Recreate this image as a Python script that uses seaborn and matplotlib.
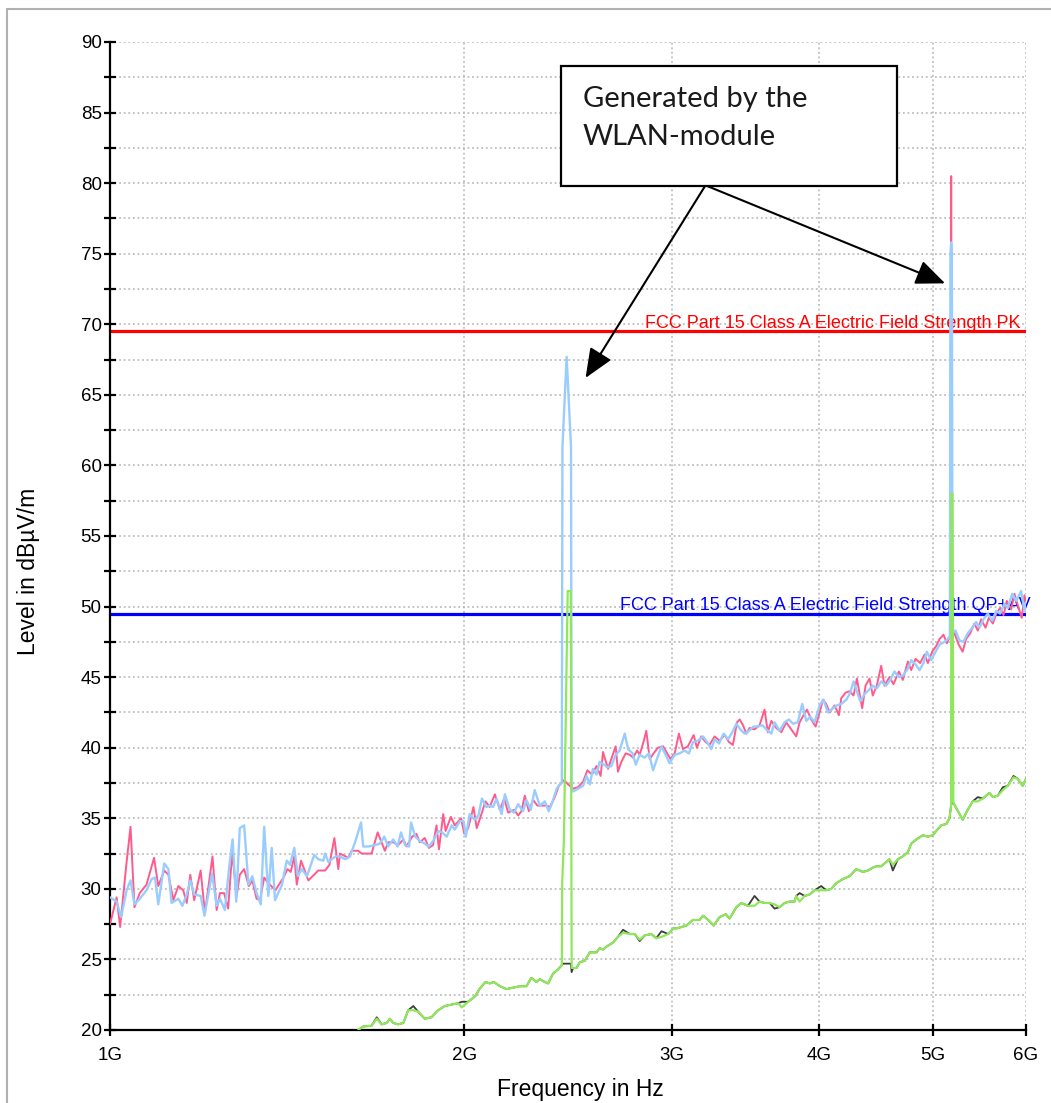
import matplotlib
matplotlib.use("Agg")
import matplotlib.pyplot as plt
import seaborn as sns
from matplotlib.ticker import MultipleLocator, NullLocator, FixedLocator
from matplotlib.patches import Rectangle
from matplotlib.lines import Line2D

# ---------------- data (frequency in GHz, level in dBuV/m) ----------------
pk1_freq = [
    1.000, 1.013, 1.020, 1.033, 1.041, 1.049, 1.060, 1.074, 1.090, 1.099,
    1.112, 1.121, 1.132, 1.143, 1.154, 1.162, 1.170, 1.179, 1.194, 1.204,
    1.222, 1.232, 1.240, 1.250, 1.260, 1.270, 1.281, 1.289, 1.300, 1.312,
    1.321, 1.332, 1.341, 1.352, 1.363, 1.382, 1.404, 1.415, 1.424, 1.434,
    1.441, 1.453, 1.474, 1.503, 1.523, 1.536, 1.551, 1.563, 1.568, 1.594,
    1.604, 1.625,
    1.636, 1.652, 1.668, 1.688, 1.701, 1.712, 1.723, 1.740, 1.757, 1.775,
    1.786, 1.806, 1.821, 1.833, 1.851, 1.866, 1.881, 1.894, 1.903, 1.919,
    1.928, 1.948, 1.963, 1.987, 2.000, 2.015, 2.036, 2.049, 2.070, 2.084,
    2.102, 2.123, 2.144, 2.162, 2.179, 2.204, 2.222, 2.236, 2.251, 2.269,
    2.288, 2.307, 2.326, 2.348, 2.364, 2.387, 2.406, 2.431, 2.450, 2.474,
    2.498, 2.523, 2.544, 2.567, 2.590, 2.611, 2.623, 2.649, 2.666,
    2.689, 2.701, 2.719, 2.742, 2.764, 2.782, 2.804, 2.818, 2.837, 2.855,
    2.874, 2.896, 2.921, 2.950, 2.969, 2.993, 3.018, 3.043, 3.067, 3.097,
    3.132, 3.152, 3.179, 3.206, 3.231, 3.263, 3.295, 3.328, 3.356, 3.382,
    3.409, 3.427, 3.449, 3.472, 3.494, 3.528, 3.563, 3.598, 3.621, 3.646,
    3.681, 3.718, 3.754, 3.791, 3.828, 3.853, 3.883, 3.909, 3.942, 3.976,
    4.007, 4.033, 4.059, 4.086, 4.126, 4.161, 4.180, 4.216, 4.249, 4.282,
    4.310,
    4.355, 4.384, 4.418, 4.446, 4.481, 4.520, 4.549, 4.594, 4.630, 4.679,
    4.715, 4.762, 4.793, 4.834, 4.878, 4.920, 4.952, 4.994, 5.033, 5.066,
    5.106, 5.140, 5.166, 5.178, 5.183, 5.188, 5.217, 5.260, 5.301, 5.336,
    5.379, 5.424, 5.460, 5.496, 5.543, 5.579, 5.624, 5.661, 5.704, 5.742,
    5.779, 5.828, 5.866, 5.904, 5.950, 5.982, 6.000,
]
pk1_level = [
    27.5, 29.4, 27.3, 31.9, 34.4, 28.7, 29.7, 30.3, 32.2, 30.2,
    31.3, 31.0, 29.2, 30.2, 29.9, 29.0, 31.0, 29.2, 31.3, 28.3,
    32.3, 28.5, 29.7, 29.7, 28.6, 32.6, 29.5, 31.0, 31.4, 30.2,
    30.6, 29.3, 29.2, 30.8, 30.4, 29.9, 30.8, 31.4, 31.2, 32.3,
    30.3, 32.0, 30.6, 31.3, 31.3, 31.7, 33.6, 31.4, 32.5, 32.2,
    32.7, 32.7,
    32.5, 32.5, 32.5, 34.0, 33.3, 32.7, 33.3, 33.3, 33.1, 33.5,
    33.0, 33.7, 33.9, 33.3, 33.6, 32.9, 33.1, 34.5, 32.8, 35.3,
    34.1, 35.1, 34.5, 35.0, 33.9, 34.3, 35.8, 34.3, 35.4, 36.2,
    35.8, 36.7, 35.6, 36.4, 35.4, 35.6, 35.2, 35.5, 36.6, 35.5,
    36.3, 35.9, 35.9, 35.9, 35.8, 36.5, 37.3, 37.7, 37.4, 37.1,
    37.2, 37.6, 38.4, 38.1, 38.7, 38.0, 39.7, 38.5, 39.2,
    40.1, 38.3, 39.0, 39.6, 39.5, 39.3, 39.8, 39.5, 40.3, 41.2,
    39.2, 39.6, 40.0, 40.1, 39.7, 39.2, 39.6, 41.0, 39.9, 40.1,
    40.9, 40.0, 40.8, 40.4, 40.2, 40.8, 40.5, 40.9, 40.4, 40.2,
    41.8, 42.0, 41.6, 41.0, 41.4, 41.3, 41.6, 42.7, 41.1, 41.9,
    41.4, 41.1, 41.8, 41.3, 40.8, 41.8, 42.3, 42.7, 42.0, 41.5,
    42.5, 43.4, 43.1, 42.5, 43.0, 42.3, 43.5, 43.9, 44.0, 43.7,
    44.9,
    42.8, 44.4, 44.9, 43.7, 44.4, 45.8, 44.4, 45.0, 44.5, 45.4,
    44.8, 46.1, 45.5, 46.3, 46.0, 46.6, 46.0, 46.8, 47.2, 47.7,
    48.0, 47.4, 47.8, 48.0, 80.5, 48.2, 48.1, 47.3, 46.8, 47.7,
    48.1, 48.8, 48.3, 49.1, 48.5, 49.2, 48.8, 49.5, 49.9, 49.4,
    50.4, 49.8, 50.9, 50.1, 49.2, 50.8, 50.2,
]

pk2_freq = [
    1.000, 1.013, 1.022, 1.033, 1.041, 1.049, 1.060, 1.074, 1.085, 1.092,
    1.099, 1.112, 1.121, 1.128, 1.143, 1.152, 1.162, 1.170, 1.179, 1.194,
    1.203, 1.212, 1.221, 1.232, 1.240, 1.252, 1.262, 1.271, 1.280, 1.289,
    1.300, 1.311, 1.321, 1.332, 1.343, 1.352, 1.363, 1.372, 1.381, 1.400,
    1.413, 1.422, 1.434, 1.444, 1.455, 1.470, 1.491, 1.503, 1.518, 1.523,
    1.533, 1.554, 1.568, 1.584, 1.599, 1.615, 1.634,
    1.641, 1.657, 1.679, 1.695, 1.710, 1.723, 1.740, 1.755, 1.767, 1.781,
    1.795, 1.802, 1.817, 1.833, 1.851, 1.866, 1.885, 1.900, 1.915, 1.932,
    1.951, 1.963, 1.983, 1.997, 2.006, 2.021, 2.040, 2.056, 2.070, 2.088,
    2.102, 2.116, 2.130, 2.151, 2.165, 2.186, 2.204, 2.222, 2.243, 2.258,
    2.277, 2.295, 2.318, 2.341, 2.359, 2.375, 2.396, 2.410, 2.420, 2.423,
    2.443, 2.464, 2.467, 2.474, 2.498, 2.523, 2.540, 2.556, 2.572, 2.590,
    2.606, 2.629, 2.646, 2.666,
    2.689, 2.710, 2.737, 2.755, 2.779, 2.797, 2.818, 2.846, 2.870, 2.893,
    2.915, 2.941, 2.965, 2.988, 3.018, 3.047, 3.077, 3.103, 3.128, 3.159,
    3.190, 3.215, 3.242, 3.263, 3.291, 3.321, 3.350, 3.378, 3.405, 3.431,
    3.460, 3.490, 3.521, 3.551, 3.582, 3.610, 3.646, 3.669, 3.705, 3.742,
    3.773, 3.803, 3.840, 3.873, 3.904, 3.935, 3.968, 4.007, 4.038, 4.072,
    4.113, 4.145, 4.180, 4.222, 4.255, 4.282,
    4.305, 4.339, 4.375, 4.412, 4.446, 4.481, 4.520, 4.564, 4.600, 4.639,
    4.679, 4.715, 4.762, 4.793, 4.834, 4.872, 4.910, 4.942, 4.984, 5.027,
    5.066, 5.116, 5.150, 5.170, 5.176, 5.183, 5.190, 5.197, 5.227, 5.268,
    5.309, 5.353, 5.400, 5.443, 5.478, 5.521, 5.568, 5.617, 5.661, 5.704,
    5.751, 5.790, 5.840, 5.886, 5.943, 5.982, 6.000,
]
pk2_level = [
    29.4, 29.1, 28.0, 29.9, 30.6, 28.9, 29.3, 29.9, 30.7, 30.8,
    28.9, 31.8, 31.4, 29.0, 29.3, 28.8, 29.6, 30.6, 29.6, 29.5,
    28.1, 29.6, 31.1, 28.8, 29.3, 28.5, 31.4, 33.5, 29.1, 34.3,
    34.5, 30.3, 30.9, 29.7, 28.9, 34.4, 29.5, 32.9, 29.2, 30.3,
    32.0, 31.7, 32.9, 30.9, 31.4, 30.9, 32.4, 32.1, 32.0, 32.5,
    31.9, 32.3, 32.3, 32.1, 32.3, 33.3, 34.7,
    33.0, 33.0, 33.1, 33.2, 33.7, 33.0, 33.5, 33.0, 34.0, 33.1,
    33.0, 34.7, 33.7, 33.4, 33.2, 33.0, 33.5, 34.1, 34.0, 33.7,
    34.5, 34.2, 34.8, 34.8, 33.7, 35.3, 34.9, 35.2, 36.4, 35.8,
    35.9, 35.8, 36.4, 35.3, 36.7, 35.6, 35.4, 36.0, 35.5, 36.3,
    35.6, 37.0, 35.9, 36.2, 35.5, 36.1, 37.1, 37.4, 37.5, 61.3,
    67.7, 61.3, 37.0, 36.9, 37.1, 37.3, 38.0, 37.4, 38.5, 38.1,
    39.0, 38.8, 38.6, 38.7,
    39.5, 39.8, 41.0, 39.9, 39.6, 38.8, 39.5, 39.3, 39.6, 38.4,
    39.2, 40.1, 39.5, 38.9, 39.5, 39.6, 39.8, 39.6, 40.4, 40.5,
    40.8, 40.4, 39.9, 40.6, 40.3, 41.0, 40.6, 41.1, 41.7, 41.3,
    41.0, 41.2, 41.5, 41.5, 41.6, 41.3, 41.0, 41.8, 41.2, 41.8,
    42.0, 41.7, 41.8, 43.1, 41.9, 42.2, 41.8, 43.0, 43.4, 42.5,
    42.8, 43.0, 43.1, 43.4, 43.9, 44.7,
    44.1, 43.3, 43.8, 44.1, 44.4, 44.2, 44.7, 44.4, 44.8, 45.4,
    45.0, 45.1, 45.6, 46.2, 45.9, 45.5, 46.0, 46.8, 46.2, 46.8,
    47.3, 47.5, 47.7, 47.9, 75.0, 75.8, 75.2, 48.2, 48.3, 47.6,
    47.5, 48.1, 48.5, 48.9, 48.5, 49.1, 49.5, 49.0, 49.7, 49.5,
    50.2, 49.9, 50.9, 50.4, 51.1, 49.7, 50.3,
]

av_freq = [
    1.625, 1.641, 1.668, 1.685, 1.701, 1.718, 1.729, 1.740, 1.757, 1.775,
    1.792, 1.810, 1.827, 1.851, 1.875, 1.900, 1.925, 1.951, 1.976, 1.990,
    2.015, 2.043, 2.060, 2.084, 2.102, 2.119, 2.144, 2.172, 2.200, 2.229,
    2.258, 2.280, 2.303, 2.318, 2.341, 2.356, 2.379, 2.403, 2.420, 2.422,
    2.430, 2.448, 2.463, 2.467, 2.474, 2.491, 2.506, 2.531, 2.556, 2.590,
    2.606, 2.623, 2.640, 2.675, 2.701, 2.728, 2.764, 2.791, 2.818, 2.846,
    2.883, 2.911, 2.941, 2.980, 3.010, 3.030, 3.088, 3.128, 3.169,
    3.190, 3.222, 3.257, 3.295, 3.335, 3.360, 3.405, 3.438, 3.483, 3.528,
    3.563, 3.598, 3.634, 3.669, 3.705, 3.742, 3.778, 3.815, 3.828, 3.853,
    3.891, 3.929, 3.968, 4.020, 4.059, 4.099, 4.140, 4.194, 4.249, 4.305,
    4.361, 4.404, 4.446, 4.476, 4.520, 4.564, 4.594, 4.624, 4.670, 4.715,
    4.762, 4.793, 4.841, 4.904, 4.952, 5.001, 5.033, 5.083, 5.134, 5.166,
    5.182, 5.185, 5.196, 5.205, 5.301, 5.353, 5.406, 5.460, 5.514, 5.586,
    5.624, 5.678, 5.734, 5.790, 5.855, 5.904, 5.962, 6.000,
]
av1_level = [
    20.0, 20.25, 20.3, 20.8, 20.4, 20.5, 20.8, 20.5, 20.4, 20.5,
    21.4, 21.4, 21.3, 20.8, 20.9, 21.4, 21.7, 21.8, 21.9, 21.6,
    22.0, 22.4, 22.9, 23.4, 23.3, 23.4, 23.1, 22.9, 23.0, 23.1,
    23.1, 23.7, 23.4, 23.6, 23.4, 23.3, 24.0, 24.3, 24.6, 30.5,
    33.5, 51.1, 51.1, 24.4, 24.4, 24.4, 24.8, 24.9, 25.5, 25.5,
    25.8, 25.7, 25.9, 26.2, 26.6, 26.9, 26.8, 26.8, 26.4, 26.7,
    26.8, 26.5, 26.6, 26.8, 27.2, 27.2, 27.4, 27.8, 27.8,
    28.1, 27.8, 27.4, 28.0, 28.2, 27.9, 28.7, 29.0, 28.8, 28.8,
    29.1, 29.0, 29.0, 28.9, 28.7, 29.0, 29.1, 29.1, 29.5, 29.1,
    29.5, 29.6, 29.9, 29.9, 29.9, 30.0, 30.4, 30.7, 30.9, 31.4,
    31.2, 31.3, 31.5, 31.6, 31.6, 31.9, 32.1, 31.7, 32.1, 32.3,
    32.6, 33.2, 33.5, 33.8, 33.7, 33.8, 34.1, 34.5, 34.6, 35.0,
    35.9, 58.0, 58.0, 36.1, 34.9, 35.6, 36.2, 36.2, 36.4, 36.8,
    36.5, 36.6, 37.0, 37.3, 37.9, 37.8, 37.3, 37.8,
]
av2_level = [
    20.0, 20.25, 20.3, 20.9, 20.4, 20.5, 20.8, 20.5, 20.4, 20.5,
    21.4, 21.7, 21.3, 20.8, 20.9, 21.4, 21.7, 21.8, 21.9, 22.0,
    22.0, 22.4, 22.9, 23.4, 23.3, 23.4, 23.1, 22.9, 23.0, 23.1,
    23.1, 23.7, 23.4, 23.6, 23.4, 23.3, 24.0, 24.3, 24.6, 24.7,
    24.7, 24.7, 24.7, 24.1, 24.4, 24.4, 24.8, 24.9, 25.5, 25.5,
    25.8, 25.7, 25.9, 26.2, 26.6, 27.1, 26.8, 26.8, 26.3, 26.7,
    26.8, 26.5, 27.0, 26.8, 27.2, 27.2, 27.4, 27.8, 27.8,
    28.1, 27.8, 27.4, 28.0, 28.2, 27.9, 28.7, 29.0, 28.8, 29.5,
    29.1, 29.0, 29.0, 28.6, 28.7, 29.0, 29.1, 29.1, 29.5, 29.7,
    29.5, 29.6, 29.9, 30.2, 29.9, 30.0, 30.4, 30.7, 30.9, 31.4,
    31.2, 31.3, 31.5, 31.6, 31.6, 31.9, 32.1, 31.3, 32.1, 32.3,
    32.6, 33.2, 33.5, 33.8, 33.7, 33.8, 34.1, 34.5, 34.6, 35.0,
    35.9, 36.0, 36.1, 36.1, 34.9, 35.6, 36.2, 36.5, 36.4, 36.8,
    36.5, 36.6, 37.2, 37.3, 38.0, 37.8, 37.3, 37.8,
]

limit_pk = 69.5
limit_qpav = 49.5
limit_pk_label = "FCC Part 15 Class A Electric Field Strength PK"
limit_qpav_label = "FCC Part 15 Class A Electric Field Strength QP+AV"

x_ticks = [1, 2, 3, 4, 5, 6]
x_ticklabels = ["1G", "2G", "3G", "4G", "5G", "6G"]
y_ticks = [20, 25, 30, 35, 40, 45, 50, 55, 60, 65, 70, 75, 80, 85, 90]

note_text = ["Generated by the", "WLAN-module"]

# ---------------- figure ----------------
sns.set_theme(style="white")
plt.rcParams["font.family"] = ["Liberation Sans", "DejaVu Sans"]

W, H = 1051, 1103
fig = plt.figure(figsize=(W / 100, H / 100), dpi=100)
fig.patch.set_facecolor("white")
ax = fig.add_axes([110 / W, 1 - 1030 / H, 916 / W, 988 / H])
ax.set_facecolor("white")

# limit lines
ax.axhline(limit_pk, color="#ff0000", lw=2.3, zorder=2)
ax.axhline(limit_qpav, color="#0000ff", lw=2.3, zorder=2)
ax.text(0.9945, limit_pk + 0.25, limit_pk_label, color="#ff0000", fontsize=13,
        ha="right", va="baseline", transform=ax.get_yaxis_transform(), zorder=2.5)
ax.text(1.0055, limit_qpav + 0.25, limit_qpav_label, color="#0000ff", fontsize=13,
        ha="right", va="baseline", transform=ax.get_yaxis_transform(), zorder=2.5,
        clip_on=False)

# traces
sns.lineplot(x=pk1_freq, y=pk1_level, ax=ax, color="#ff5a8c", lw=1.4,
             estimator=None, sort=False, legend=False, zorder=3)
sns.lineplot(x=pk2_freq, y=pk2_level, ax=ax, color="#99ccff", lw=1.7,
             estimator=None, sort=False, legend=False, zorder=3.2)
sns.lineplot(x=av_freq, y=av2_level, ax=ax, color="#3c3c3c", lw=1.3,
             estimator=None, sort=False, legend=False, zorder=3.4)
sns.lineplot(x=av_freq, y=av1_level, ax=ax, color="#8ee85a", lw=1.6,
             estimator=None, sort=False, legend=False, zorder=3.6)

# axes
ax.set_xscale("log")
ax.set_xlim(1, 6)
ax.set_ylim(20, 90)
ax.xaxis.set_major_locator(FixedLocator(x_ticks))
ax.xaxis.set_minor_locator(NullLocator())
ax.set_xticklabels(x_ticklabels)
ax.yaxis.set_major_locator(FixedLocator(y_ticks))
ax.yaxis.set_minor_locator(MultipleLocator(2.5))

ax.grid(True, which="major", axis="both", color="#b4b4b4", ls=(0, (1.2, 1.8)), lw=1.1)
ax.grid(True, which="minor", axis="y", color="#b4b4b4", ls=(0, (1.2, 1.8)), lw=1.1)
ax.set_axisbelow(True)

for s in ["top", "right"]:
    ax.spines[s].set_visible(False)
for s in ["left", "bottom"]:
    ax.spines[s].set_color("black")
    ax.spines[s].set_linewidth(1.6)

ax.tick_params(axis="y", which="both", left=True, direction="inout", length=9,
               width=1.6, color="black", labelsize=13.5, pad=1.5, labelcolor="black")
ax.tick_params(axis="x", which="major", bottom=True, direction="inout", length=9,
               width=1.6, color="black", labelsize=13.5, pad=8, labelcolor="black")

ax.set_xlabel("Frequency in Hz", fontsize=16.5, color="black")
ax.set_ylabel("Level in dBµV/m", fontsize=16.5, color="black")
ax.xaxis.set_label_coords((580 - 110) / 916, (1030 - 1078) / 988)
ax.yaxis.set_label_coords((40 - 110) / 916, (1030 - 571) / 988)

# annotation box
ax.add_patch(Rectangle(((561 - 110) / 916, (1030 - 186) / 988), 336 / 916, 120 / 988,
                       transform=ax.transAxes, facecolor="white", edgecolor="black",
                       lw=1.6, zorder=10, clip_on=False))
for line_text, base_px in zip(note_text, [107, 145]):
    ax.text((583 - 110) / 916, (1030 - base_px) / 988, line_text, transform=ax.transAxes,
            fontsize=21, family=["Lato", "DejaVu Sans"], fontweight="normal",
            ha="left", va="baseline", color="#1a1a1a", zorder=11)

arrow_kw = dict(arrowstyle="-|>,head_length=0.9,head_width=0.38", color="black",
                lw=1.5, mutation_scale=20, shrinkA=0, shrinkB=0)
ax.annotate("", xy=(2.535, 66.2), xytext=(3.203, 79.8),
            arrowprops=arrow_kw, zorder=10)
ax.annotate("", xy=(5.122, 72.9), xytext=(3.215, 79.8),
            arrowprops=arrow_kw, zorder=10)

# outer frame
fig.add_artist(Line2D([7 / W, 7 / W], [0, 1 - 9 / H], transform=fig.transFigure,
                      color="#b0b0b0", lw=1.5))
fig.add_artist(Line2D([7 / W, 1], [1 - 9 / H, 1 - 9 / H], transform=fig.transFigure,
                      color="#b0b0b0", lw=1.5))

fig.savefig("out.png", dpi=100)
